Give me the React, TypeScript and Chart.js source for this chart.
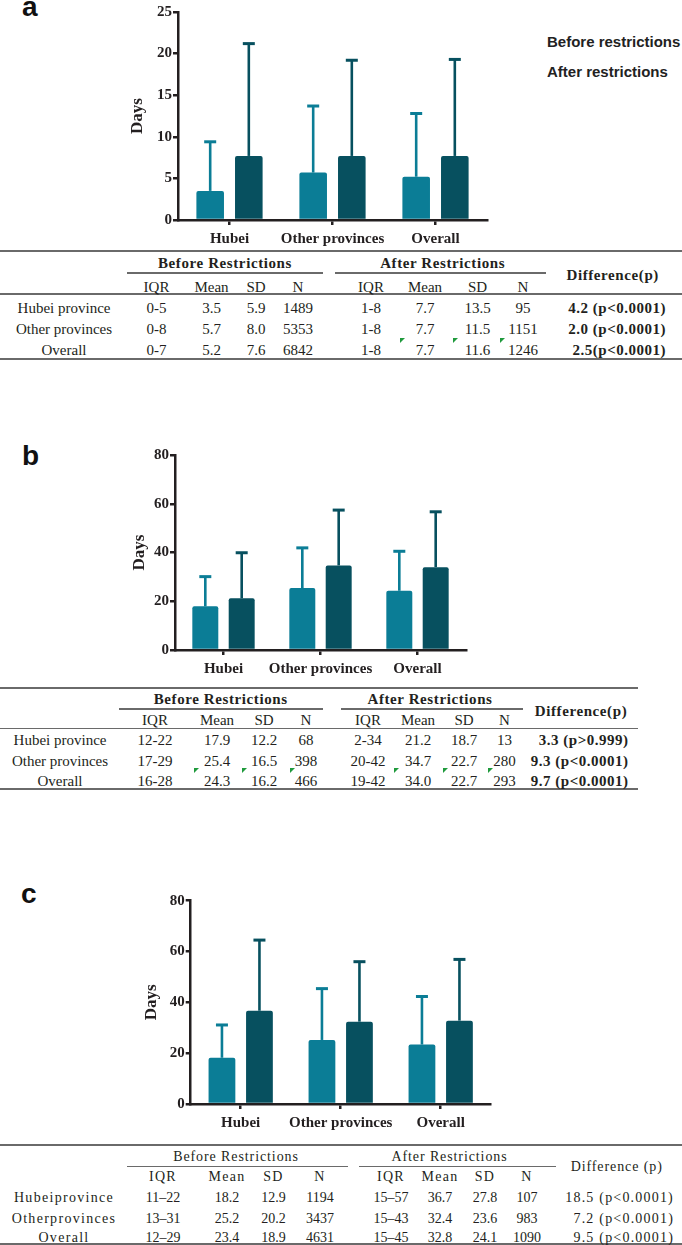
import React, { useEffect, useRef } from "react";
import { Chart, registerables } from "chart.js";

Chart.register(...registerables);

// ---------- shared labels ----------
const categories = ["Hubei", "Other provinces", "Overall"];
const rowLabels = ["Hubei province", "Other provinces", "Overall"];
const rowLabelsC = ["Hubeiprovince", "Otherprovinces", "Overall"];
const legendLabels = ["Before restrictions", "After restrictions"];
const subHeaders = ["IQR", "Mean", "SD", "N"];
const groupHeaders = ["Before Restrictions", "After Restrictions"];

// ---------- panel a ----------
const aBeforeMean = [3.5, 5.7, 5.2];
const aBeforeSD = [5.9, 8.0, 7.6];
const aBeforeN = [1489, 5353, 6842];
const aBeforeIQR = ["0-5", "0-8", "0-7"];
const aAfterMean = [7.7, 7.7, 7.7];
const aAfterSD = [13.5, 11.5, 11.6];
const aAfterN = [95, 1151, 1246];
const aAfterIQR = ["1-8", "1-8", "1-8"];
const aDiff = ["4.2 (p<0.0001)", "2.0 (p<0.0001)", "2.5(p<0.0001)"];
const aYMax = 25;
const aYStep = 5;

// ---------- panel b ----------
const bBeforeMean = [17.9, 25.4, 24.3];
const bBeforeSD = [12.2, 16.5, 16.2];
const bBeforeN = [68, 398, 466];
const bBeforeIQR = ["12-22", "17-29", "16-28"];
const bAfterMean = [21.2, 34.7, 34.0];
const bAfterSD = [18.7, 22.7, 22.7];
const bAfterN = [13, 280, 293];
const bAfterIQR = ["2-34", "20-42", "19-42"];
const bDiff = ["3.3 (p>0.999)", "9.3 (p<0.0001)", "9.7 (p<0.0001)"];
const bYMax = 80;
const bYStep = 20;

// ---------- panel c ----------
const cBeforeMean = [18.2, 25.2, 23.4];
const cBeforeSD = [12.9, 20.2, 18.9];
const cBeforeN = [1194, 3437, 4631];
const cBeforeIQR = ["11–22", "13–31", "12–29"];
const cAfterMean = [36.7, 32.4, 32.8];
const cAfterSD = [27.8, 23.6, 24.1];
const cAfterN = [107, 983, 1090];
const cAfterIQR = ["15–57", "15–43", "15–45"];
const cDiff = ["18.5 (p<0.0001)", "7.2 (p<0.0001)", "9.5 (p<0.0001)"];
const cYMax = 80;
const cYStep = 20;

// ---------- styles ----------
const BEFORE_COLOR = "#0b7d96";
const AFTER_COLOR = "#07505f";
const AXIS_COLOR = "#231f20";
const TEXT_COLOR = "#231f20";
const LINE_COLOR = "#6a6a6a";
const SERIF = "'Liberation Serif', 'Times New Roman', serif";
const SANS = "'Liberation Sans', Arial, sans-serif";

const errorBarPlugin = {
  id: "errorBars",
  afterDatasetsDraw(chart: any) {
    const ctx = chart.ctx;
    const yScale = chart.scales.y;
    chart.data.datasets.forEach((ds: any, i: number) => {
      const meta = chart.getDatasetMeta(i);
      const errs: number[] = ds.errors || [];
      meta.data.forEach((el: any, j: number) => {
        const v = ds.data[j] as number;
        const e = errs[j] || 0;
        const x = el.x;
        const y0 = el.y;
        const y1 = yScale.getPixelForValue(v + e);
        ctx.save();
        ctx.strokeStyle = ds.backgroundColor;
        ctx.lineWidth = 2.6;
        ctx.beginPath();
        ctx.moveTo(x, y0);
        ctx.lineTo(x, y1);
        ctx.stroke();
        ctx.lineWidth = 3;
        ctx.beginPath();
        ctx.moveTo(x - 6, y1);
        ctx.lineTo(x + 6, y1);
        ctx.stroke();
        ctx.restore();
      });
    });
  },
};

type PanelProps = {
  left: number;
  top: number;
  width: number;
  height: number;
  before: number[];
  beforeSD: number[];
  after: number[];
  afterSD: number[];
  yMax: number;
  yStep: number;
  padTop: number;
  padRight: number;
  yWidth: number;
  xHeight: number;
  titlePad: number;
};

function BarPanel(p: PanelProps) {
  const ref = useRef<HTMLCanvasElement>(null);
  useEffect(() => {
    const tickFont = { family: SERIF, size: 15, weight: "bold" as const };
    const chart = new Chart(ref.current as HTMLCanvasElement, {
      type: "bar",
      data: {
        labels: categories,
        datasets: [
          {
            label: legendLabels[0],
            data: p.before,
            errors: p.beforeSD,
            backgroundColor: BEFORE_COLOR,
            borderRadius: 2,
            categoryPercentage: 0.75,
            barPercentage: 0.714,
          } as any,
          {
            label: legendLabels[1],
            data: p.after,
            errors: p.afterSD,
            backgroundColor: AFTER_COLOR,
            borderRadius: 2,
            categoryPercentage: 0.75,
            barPercentage: 0.714,
          } as any,
        ],
      },
      options: {
        animation: false,
        responsive: false,
        maintainAspectRatio: false,
        devicePixelRatio: 1,
        layout: { padding: { top: p.padTop, right: p.padRight, left: 0, bottom: 0 } },
        plugins: { legend: { display: false }, tooltip: { enabled: false } },
        scales: {
          x: {
            offset: true,
            grid: {
              display: true,
              drawOnChartArea: false,
              drawTicks: true,
              tickLength: 5,
              offset: false,
              color: AXIS_COLOR,
              lineWidth: 2.5,
            },
            border: { display: true, color: AXIS_COLOR, width: 2.5 },
            ticks: {
              font: tickFont,
              color: TEXT_COLOR,
              padding: 5,
              maxRotation: 0,
              autoSkip: false,
            },
            afterFit: (s: any) => {
              s.height = p.xHeight;
            },
          },
          y: {
            min: 0,
            max: p.yMax,
            ticks: { stepSize: p.yStep, font: tickFont, color: TEXT_COLOR, padding: 1 },
            grid: {
              display: true,
              drawOnChartArea: false,
              drawTicks: true,
              tickLength: 5,
              color: AXIS_COLOR,
              lineWidth: 2.5,
            },
            border: { display: true, color: AXIS_COLOR, width: 2.5 },
            title: {
              display: true,
              text: "Days",
              color: TEXT_COLOR,
              font: { family: SERIF, size: 17, weight: "bold" },
              padding: { top: p.titlePad, bottom: 0 },
            },
            afterFit: (s: any) => {
              s.width = p.yWidth;
            },
          },
        },
      },
      plugins: [errorBarPlugin],
    });
    return () => chart.destroy();
  }, []);
  return (
    <canvas
      ref={ref}
      width={p.width}
      height={p.height}
      style={{ position: "absolute", left: p.left, top: p.top, width: p.width, height: p.height }}
    />
  );
}

function T(props: {
  x: number;
  y: number;
  align?: "center" | "right" | "left";
  style?: React.CSSProperties;
  children: React.ReactNode;
}) {
  const a = props.align || "center";
  const tx = a === "center" ? "-50%" : a === "right" ? "-100%" : "0";
  return (
    <div
      style={{
        position: "absolute",
        left: props.x,
        top: props.y,
        transform: `translate(${tx}, -50%)`,
        whiteSpace: "nowrap",
        lineHeight: 1,
        ...props.style,
      }}
    >
      {props.children}
    </div>
  );
}

function HLine(props: { x1: number; x2: number; y: number; w?: number }) {
  const w = props.w || 1.5;
  return (
    <div
      style={{
        position: "absolute",
        left: props.x1,
        top: props.y - w / 2,
        width: props.x2 - props.x1,
        height: w,
        background: LINE_COLOR,
      }}
    />
  );
}

function Marker(props: { x: number; y: number }) {
  return (
    <div
      style={{
        position: "absolute",
        left: props.x,
        top: props.y,
        width: 0,
        height: 0,
        borderTop: "5px solid #1f9a3c",
        borderRight: "5px solid transparent",
      }}
    />
  );
}

type TableSpec = {
  labels: string[];
  bIQR: string[];
  bMean: number[];
  bSD: number[];
  bN: number[];
  aIQR: string[];
  aMean: number[];
  aSD: number[];
  aN: number[];
  diff: string[];
  right: number;
  topY: number;
  underY: number;
  underB: [number, number];
  underA: [number, number];
  subLineY: number | null;
  bottomY: number;
  headerY: number;
  headerB: number;
  headerA: number;
  diffHeadX: number;
  diffHeadY: number;
  subY: number;
  bCols: number[];
  aCols: number[];
  rowYs: number[];
  labelX: number;
  diffRight: number;
  diffHeadText: string;
  base: React.CSSProperties;
  headStyle: React.CSSProperties;
  labelStyle: React.CSSProperties;
  valueStyle: React.CSSProperties;
  diffStyle: React.CSSProperties;
  markers: [number, number][];
};

function StatsTable({ s }: { s: TableSpec }) {
  const els: React.ReactNode[] = [];
  els.push(<HLine key="top" x1={0} x2={s.right} y={s.topY} w={2} />);
  els.push(<HLine key="ub" x1={s.underB[0]} x2={s.underB[1]} y={s.underY} w={1.5} />);
  els.push(<HLine key="ua" x1={s.underA[0]} x2={s.underA[1]} y={s.underY} w={1.5} />);
  if (s.subLineY !== null) els.push(<HLine key="sl" x1={0} x2={s.right} y={s.subLineY} w={1.5} />);
  els.push(<HLine key="bot" x1={0} x2={s.right} y={s.bottomY} w={2} />);
  els.push(
    <T key="hb" x={s.headerB} y={s.headerY} style={{ ...s.base, ...s.headStyle }}>
      {groupHeaders[0]}
    </T>
  );
  els.push(
    <T key="ha" x={s.headerA} y={s.headerY} style={{ ...s.base, ...s.headStyle }}>
      {groupHeaders[1]}
    </T>
  );
  els.push(
    <T key="hd" x={s.diffHeadX} y={s.diffHeadY} style={{ ...s.base, ...s.headStyle }}>
      {s.diffHeadText}
    </T>
  );
  subHeaders.forEach((h, i) => {
    els.push(
      <T key={"sb" + i} x={s.bCols[i]} y={s.subY} style={{ ...s.base, ...s.labelStyle }}>
        {h}
      </T>
    );
    els.push(
      <T key={"sa" + i} x={s.aCols[i]} y={s.subY} style={{ ...s.base, ...s.labelStyle }}>
        {h}
      </T>
    );
  });
  s.labels.forEach((lab, r) => {
    const y = s.rowYs[r];
    els.push(
      <T key={"l" + r} x={s.labelX} y={y} style={{ ...s.base, ...s.labelStyle }}>
        {lab}
      </T>
    );
    const bVals = [s.bIQR[r], s.bMean[r].toFixed(1), s.bSD[r].toFixed(1), String(s.bN[r])];
    const aVals = [s.aIQR[r], s.aMean[r].toFixed(1), s.aSD[r].toFixed(1), String(s.aN[r])];
    bVals.forEach((v, i) =>
      els.push(
        <T key={`b${r}-${i}`} x={s.bCols[i]} y={y} style={{ ...s.base, ...s.valueStyle }}>
          {v}
        </T>
      )
    );
    aVals.forEach((v, i) =>
      els.push(
        <T key={`a${r}-${i}`} x={s.aCols[i]} y={y} style={{ ...s.base, ...s.valueStyle }}>
          {v}
        </T>
      )
    );
    els.push(
      <T key={"d" + r} x={s.diffRight} y={y} align="right" style={{ ...s.base, ...s.diffStyle }}>
        {s.diff[r]}
      </T>
    );
  });
  s.markers.forEach((m, i) => els.push(<Marker key={"m" + i} x={m[0]} y={m[1]} />));
  return <>{els}</>;
}

const serifBase: React.CSSProperties = { fontFamily: SERIF, fontSize: 15, color: TEXT_COLOR };

const tableA: TableSpec = {
  labels: rowLabels,
  bIQR: aBeforeIQR, bMean: aBeforeMean, bSD: aBeforeSD, bN: aBeforeN,
  aIQR: aAfterIQR, aMean: aAfterMean, aSD: aAfterSD, aN: aAfterN,
  diff: aDiff,
  right: 682,
  topY: 251,
  underY: 273,
  underB: [127, 323],
  underA: [335, 546],
  subLineY: 294,
  bottomY: 358.5,
  headerY: 263,
  headerB: 225,
  headerA: 442.7,
  diffHeadX: 612.7,
  diffHeadY: 275,
  subY: 286.7,
  bCols: [156.5, 211.5, 256, 298],
  aCols: [371, 425, 477.5, 523],
  rowYs: [307.7, 328.5, 350],
  labelX: 64,
  diffRight: 666,
  diffHeadText: "Difference(p)",
  base: serifBase,
  headStyle: { fontWeight: "bold", letterSpacing: 0.6 },
  labelStyle: {},
  valueStyle: {},
  diffStyle: { fontWeight: "bold", letterSpacing: 0.5 },
  markers: [
    [400, 338],
    [453, 338],
    [499.5, 338],
  ],
};

const tableB: TableSpec = {
  labels: rowLabels,
  bIQR: bBeforeIQR, bMean: bBeforeMean, bSD: bBeforeSD, bN: bBeforeN,
  aIQR: bAfterIQR, aMean: bAfterMean, aSD: bAfterSD, aN: bAfterN,
  diff: bDiff,
  right: 638,
  topY: 688,
  underY: 709,
  underB: [119, 323],
  underA: [341, 523],
  subLineY: 728.5,
  bottomY: 788.5,
  headerY: 699.3,
  headerB: 220.7,
  headerA: 430,
  diffHeadX: 581,
  diffHeadY: 710.7,
  subY: 720,
  bCols: [155, 217, 264, 306],
  aCols: [368, 418, 464, 504.5],
  rowYs: [740, 760.5, 780.5],
  labelX: 60,
  diffRight: 628.5,
  diffHeadText: "Difference(p)",
  base: serifBase,
  headStyle: { fontWeight: "bold", letterSpacing: 0.6 },
  labelStyle: {},
  valueStyle: {},
  diffStyle: { fontWeight: "bold", letterSpacing: 0.5 },
  markers: [
    [194, 768],
    [242, 768],
    [290, 768],
    [394.3, 768],
    [442.7, 768],
    [487.7, 768],
  ],
};

const tableC: TableSpec = {
  labels: rowLabelsC,
  bIQR: cBeforeIQR, bMean: cBeforeMean, bSD: cBeforeSD, bN: cBeforeN,
  aIQR: cAfterIQR, aMean: cAfterMean, aSD: cAfterSD, aN: cAfterN,
  diff: cDiff,
  right: 682,
  topY: 1145,
  underY: 1166.7,
  underB: [127, 348],
  underA: [359, 556],
  subLineY: null,
  bottomY: 1244,
  headerY: 1156.7,
  headerB: 236,
  headerA: 449.5,
  diffHeadX: 616.7,
  diffHeadY: 1166.7,
  subY: 1177.3,
  bCols: [163, 227, 273.5, 320],
  aCols: [391, 440, 485, 527],
  rowYs: [1198, 1218.5, 1237.5],
  labelX: 64,
  diffRight: 674,
  diffHeadText: "Difference (p)",
  base: { fontFamily: SERIF, fontSize: 14, color: TEXT_COLOR },
  headStyle: { letterSpacing: 0.9 },
  labelStyle: { letterSpacing: 1.3 },
  valueStyle: {},
  diffStyle: { letterSpacing: 1.2 },
  markers: [],
};

const letterStyle: React.CSSProperties = {
  position: "absolute",
  fontFamily: SANS,
  fontWeight: "bold",
  fontSize: 28,
  lineHeight: 1,
  color: "#111",
};

const legendStyle: React.CSSProperties = {
  position: "absolute",
  fontFamily: SANS,
  fontWeight: "bold",
  fontSize: 15,
  lineHeight: 1,
  color: "#222",
  whiteSpace: "nowrap",
  transform: "translateY(-50%)",
};

export default function App() {
  return (
    <div
      style={{
        position: "absolute",
        left: 0,
        top: 0,
        width: 682,
        height: 1245,
        background: "#fff",
        overflow: "hidden",
      }}
    >
      <div style={{ ...letterStyle, left: 22, top: -7 }}>a</div>
      <div style={{ ...letterStyle, left: 22, top: 442 }}>b</div>
      <div style={{ ...letterStyle, left: 21, top: 880 }}>c</div>

      <div style={{ ...legendStyle, left: 547, top: 41 }}>{legendLabels[0]}</div>
      <div style={{ ...legendStyle, left: 547, top: 71 }}>{legendLabels[1]}</div>

      <BarPanel
        left={90}
        top={0}
        width={410}
        height={250}
        before={aBeforeMean}
        beforeSD={aBeforeSD}
        after={aAfterMean}
        afterSD={aAfterSD}
        yMax={aYMax}
        yStep={aYStep}
        padTop={12}
        padRight={13}
        yWidth={88}
        xHeight={30}
        titlePad={37.8}
      />
      <StatsTable s={tableA} />

      <BarPanel
        left={90}
        top={440}
        width={390}
        height={240}
        before={bBeforeMean}
        beforeSD={bBeforeSD}
        after={bAfterMean}
        afterSD={bAfterSD}
        yMax={bYMax}
        yStep={bYStep}
        padTop={15}
        padRight={14}
        yWidth={85}
        xHeight={30}
        titlePad={39.8}
      />
      <StatsTable s={tableB} />

      <BarPanel
        left={100}
        top={880}
        width={400}
        height={254}
        before={cBeforeMean}
        beforeSD={cBeforeSD}
        after={cAfterMean}
        afterSD={cAfterSD}
        yMax={cYMax}
        yStep={cYStep}
        padTop={20.7}
        padRight={9.3}
        yWidth={90.7}
        xHeight={30}
        titlePad={41.5}
      />
      <StatsTable s={tableC} />
    </div>
  );
}
